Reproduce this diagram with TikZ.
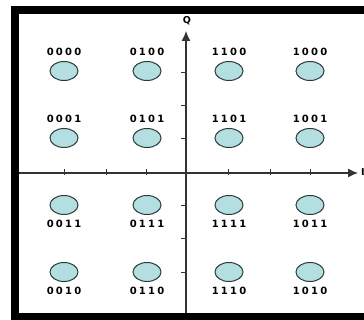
\documentclass[tikz,border=0pt]{standalone}
\usepackage{fontspec}
\setmainfont{DejaVu Sans}
\newfontfamily\labfont[LetterSpace=22]{DejaVu Sans Bold}
\usetikzlibrary{arrows.meta,shapes.geometric}
\definecolor{ptfill}{HTML}{B4DFE0}
\definecolor{ptdraw}{HTML}{2E3A3A}
\definecolor{axiscol}{HTML}{333333}
\tikzset{
  pt/.style={ellipse,draw=ptdraw,fill=ptfill,line width=1pt,minimum width=28pt,minimum height=19pt,inner sep=0pt},
  lab/.style={font=\labfont\fontsize{10}{11}\selectfont,inner sep=0pt,text=black},
  axisline/.style={draw=axiscol,line width=1.2pt,-{Latex[length=10pt,width=9pt]}},
  tick/.style={draw=axiscol,line width=0.7pt},
  frameline/.style={draw=black,line width=8pt}
}
\begin{document}
\begin{tikzpicture}[x=1pt,y=-1pt,label distance=5pt]
\useasboundingbox (0,0) rectangle (364,320);
\fill[white] (0,0) rectangle (364,320);
\draw[frameline] (14.5,10.5) rectangle (390,317);
% axes
\coordinate (xs) at (18.5,173);
\coordinate (xe) at (358,173);
\coordinate (ys) at (186,313);
\coordinate (ye) at (186,31);
\draw[axisline] (xs) -- (xe);
\draw[axisline] (ys) -- (ye);
\node[lab,font=\bfseries\fontsize{9.5}{10}\selectfont] (Q) at (187,21) {Q};
\node[lab,font=\bfseries\fontsize{9.5}{10}\selectfont,anchor=west] (I) at (361,172) {I};
% ticks
\foreach \x in {64,106,146,228,270,310}{
  \draw[tick] (\x,169) -- (\x,175);
}
\foreach \y in {72,105,138,205,238,272}{
  \draw[tick] (181,\y) -- (187,\y);
}
% points
\foreach \n/\x/\y/\s in {
  0000/64/71/above, 0100/147/71/above, 1100/229/71/above, 1000/310/71/above,
  0001/64/138/above, 0101/147/138/above, 1101/229/138/above, 1001/310/138/above,
  0011/64/205/below, 0111/147/205/below, 1111/229/205/below, 1011/310/205/below,
  0010/64/272/below, 0110/147/272/below, 1110/229/272/below, 1010/310/272/below}{
  \node[pt,label={[lab]\s:\n}] (p\n) at (\x,\y) {};
}
\end{tikzpicture}
\end{document}
